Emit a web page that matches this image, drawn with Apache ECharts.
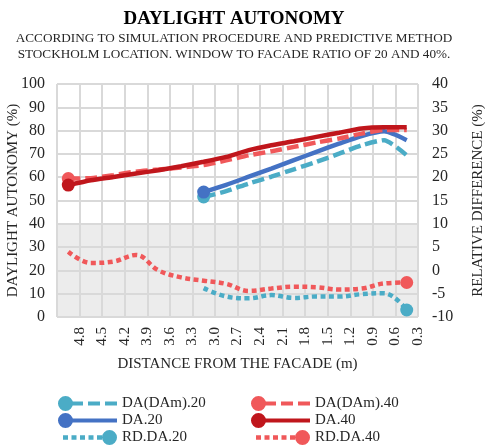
<!DOCTYPE html>
<html>
<head>
<meta charset="utf-8">
<script src="https://cdn.jsdelivr.net/npm/echarts@6/dist/echarts.min.js"></script>
<style>
    html, body { margin: 0; padding: 0; background: #fff; }
    #chart { width: 485px; height: 446px; }
</style>
</head>
<body>
<div id="chart"></div>
<script>
// distance from the facade (m)
const categories = ['4.8', '4.5', '4.2', '3.9', '3.6', '3.3', '3.0', '2.7', '2.4', '2.1', '1.8', '1.5', '1.2', '0.9', '0.6', '0.3'];

// daylight autonomy (%), left axis
const daDam20 = [null, null, null, null, null, null, 51.5, 54.0, 57.3, 60.2, 63.4, 66.6, 70.1, 73.7, 75.9, 69.4];
const da20 = [null, null, null, null, null, null, 53.6, 56.7, 60.2, 63.7, 67.3, 70.9, 74.4, 77.7, 79.7, 75.9];
const daDam40 = [59.4, 59.6, 60.9, 62.4, 63.3, 64.2, 65.2, 67.2, 69.4, 71.1, 73.0, 74.9, 76.6, 78.7, 80.3, 80.3];
const da40 = [56.6, 58.7, 60.1, 61.6, 63.0, 64.7, 66.6, 68.7, 71.6, 73.7, 75.4, 77.3, 79.1, 80.9, 81.4, 81.4];

// relative difference (%), right axis
const rdDa20 = [null, null, null, null, null, null, -3.8, -5.6, -6.0, -5.3, -5.9, -5.6, -5.6, -5.1, -4.9, -8.5];
const rdDa40 = [4.0, 1.6, 1.9, 3.3, 0.0, -1.5, -2.2, -2.9, -4.4, -3.9, -3.5, -3.6, -4.1, -3.9, -2.8, -2.6];

const leftTicks = [0, 100, 10];
const rightTicks = [-10, 40, 5];

const FONT = 'Liberation Serif';
const TXT = '#262626';
const GRID = '#d9d9d9';

const CYAN = '#4bacc6';
const BLUE = '#4472c4';
const LRED = '#f0585a';
const DRED = '#c0161c';

// legend icons: marker at one end, line style in between (59 x 15 box)
const circleL = 'M0,7.5A7.5,7.5,0,1,1,15,7.5A7.5,7.5,0,1,1,0,7.5Z';
const iconDashed = 'path://' + circleL + 'M14,5.5L25,5.5L25,9.5L14,9.5ZM30,5.5L42,5.5L42,9.5L30,9.5ZM47,5.5L59,5.5L59,9.5L47,9.5Z';
const iconSolid = 'path://' + circleL + 'M14,5.5L59,5.5L59,9.5L14,9.5Z';
const iconDotted = 'path://M0,7.5L0.01,7.5Z' +
    'M5,5.3L10,5.3L10,9.7L5,9.7ZM13.5,5.3L18.5,5.3L18.5,9.7L13.5,9.7ZM22,5.3L27,5.3L27,9.7L22,9.7Z' +
    'M30.5,5.3L35.5,5.3L35.5,9.7L30.5,9.7ZM39,5.3L44,5.3L44,9.7L39,9.7Z' +
    'M44,7.5A7.5,7.5,0,1,1,59,7.5A7.5,7.5,0,1,1,44,7.5Z';

function firstIdx(arr) { return arr.findIndex(v => v !== null); }

function makeSeries(name, data, yIdx, color, type, markIdx, smooth) {
    return {
        name: name,
        type: 'line',
        xAxisIndex: 0,
        yAxisIndex: yIdx,
        data: data,
        smooth: smooth,
        symbol: 'circle',
        showAllSymbol: true,
        symbolSize: (v, p) => (p.dataIndex === markIdx ? 13 : 0),
        itemStyle: { color: color, borderWidth: 0 },
        lineStyle: { color: color, width: 4.5, type: type, cap: 'butt' },
        emphasis: { disabled: true },
        animation: false
    };
}

// grid lines as mark lines too (split lines alone only drew the border)
const gridLine = {
    silent: true,
    z: 1,
    symbol: ['none', 'none'],
    label: { show: false },
    emphasis: { disabled: true },
    lineStyle: { color: GRID, width: 2, type: 'solid' },
    data: []
};
const hLines = [];
for (let v = leftTicks[0]; v <= leftTicks[1]; v += leftTicks[2]) hLines.push({ yAxis: v });
const vLines = [];
for (let i = 0; i <= categories.length; i++) vLines.push({ xAxis: i });

const chart = echarts.init(document.getElementById('chart'));

const series = [
    makeSeries('DA(DAm).20', daDam20, 0, CYAN, [12, 5], firstIdx(daDam20), 0.2),
    makeSeries('DA.20', da20, 0, BLUE, 'solid', firstIdx(da20), 0.2),
    makeSeries('RD.DA.20', rdDa20, 1, CYAN, [5, 3.5], rdDa20.length - 1, 0.4),
    makeSeries('DA(DAm).40', daDam40, 0, LRED, [12, 5], firstIdx(daDam40), 0.2),
    makeSeries('DA.40', da40, 0, DRED, 'solid', firstIdx(da40), 0.2),
    makeSeries('RD.DA.40', rdDa40, 1, LRED, [5, 3.5], rdDa40.length - 1, 0.4),
    {
        // carrier for the vertical grid lines on the cell borders
        name: 'grid',
        type: 'line',
        xAxisIndex: 1,
        yAxisIndex: 0,
        data: [],
        silent: true,
        animation: false,
        markLine: Object.assign({}, gridLine, { data: vLines })
    }
];
series[4].markLine = Object.assign({}, gridLine, { data: hLines });
// grey band over the lower part of the plot (translucent so the grid shows)
series[4].markArea = {
    silent: true,
    z: 1,
    itemStyle: { color: 'rgba(0,0,0,0.075)' },
    data: [[{ yAxis: 0 }, { yAxis: 40 }]]
};

const legendBase = {
    orient: 'vertical',
    top: 396,
    padding: 0,
    itemWidth: 59,
    itemHeight: 15,
    itemGap: 2,
    itemStyle: { borderWidth: 0 },
    selectedMode: false,
    textStyle: { fontFamily: FONT, fontSize: 15, color: TXT }
};

const option = {
    animation: false,
    title: {
        text: 'DAYLIGHT AUTONOMY',
        subtext: 'ACCORDING TO SIMULATION PROCEDURE AND PREDICTIVE METHOD\nSTOCKHOLM LOCATION. WINDOW TO FACADE RATIO OF 20 AND 40%.',
        left: 234,
        textAlign: 'center',
        top: 10,
        padding: 0,
        itemGap: 1,
        textStyle: { fontFamily: FONT, fontSize: 19, fontWeight: 'bold', color: '#000' },
        subtextStyle: { fontFamily: FONT, fontSize: 13.2, color: TXT, lineHeight: 16.5 }
    },
    legend: [
        Object.assign({}, legendBase, {
            left: 58,
            data: [
                { name: 'DA(DAm).20', icon: iconDashed },
                { name: 'DA.20', icon: iconSolid },
                { name: 'RD.DA.20', icon: iconDotted }
            ]
        }),
        Object.assign({}, legendBase, {
            left: 251,
            data: [
                { name: 'DA(DAm).40', icon: iconDashed },
                { name: 'DA.40', icon: iconSolid },
                { name: 'RD.DA.40', icon: iconDotted }
            ]
        })
    ],
    grid: { left: 57, right: 67, top: 84, bottom: 129, containLabel: false, outerBoundsMode: 'none' },
    xAxis: [
        {
            type: 'category',
            data: categories,
            axisLine: { show: false },
            axisTick: { show: false },
            axisLabel: { show: false },
            splitLine: { show: true, lineStyle: { color: GRID, width: 2 } }
        },
        {
            // label axis: labels sit on the cell borders, as in the original
            type: 'category',
            data: [''].concat(categories),
            boundaryGap: false,
            position: 'bottom',
            axisLine: { show: false },
            axisTick: { show: false },
            axisLabel: { rotate: 90, interval: 0, margin: 10, fontFamily: FONT, fontSize: 15, color: TXT },
            splitLine: { show: false },
            name: 'DISTANCE FROM THE FACADE (m)',
            nameLocation: 'middle',
            nameGap: 40,
            nameTextStyle: { fontFamily: FONT, fontSize: 15, color: TXT }
        }
    ],
    yAxis: [
        {
            type: 'value',
            min: leftTicks[0],
            max: leftTicks[1],
            interval: leftTicks[2],
            axisLine: { show: false },
            axisTick: { show: false },
            axisLabel: { margin: 12, fontFamily: FONT, fontSize: 16, color: TXT },
            splitLine: { show: true, lineStyle: { color: GRID, width: 2 } },
            name: 'DAYLIGHT AUTONOMY (%)',
            nameLocation: 'middle',
            nameRotate: 90,
            nameGap: 36,
            nameMoveOverlap: false,
            nameTextStyle: { fontFamily: FONT, fontSize: 15, color: TXT }
        },
        {
            type: 'value',
            position: 'right',
            min: rightTicks[0],
            max: rightTicks[1],
            interval: rightTicks[2],
            axisLine: { show: false },
            axisTick: { show: false },
            axisLabel: { margin: 14, fontFamily: FONT, fontSize: 16, color: TXT },
            splitLine: { show: false },
            name: 'RELATIVE DIFFERENCE (%)',
            nameLocation: 'middle',
            nameRotate: 90,
            nameGap: 53,
            nameMoveOverlap: false,
            nameTextStyle: { fontFamily: FONT, fontSize: 15, color: TXT }
        }
    ],
    series: series
};

chart.setOption(option);
window.addEventListener('resize', () => chart.resize());
</script>
</body>
</html>
